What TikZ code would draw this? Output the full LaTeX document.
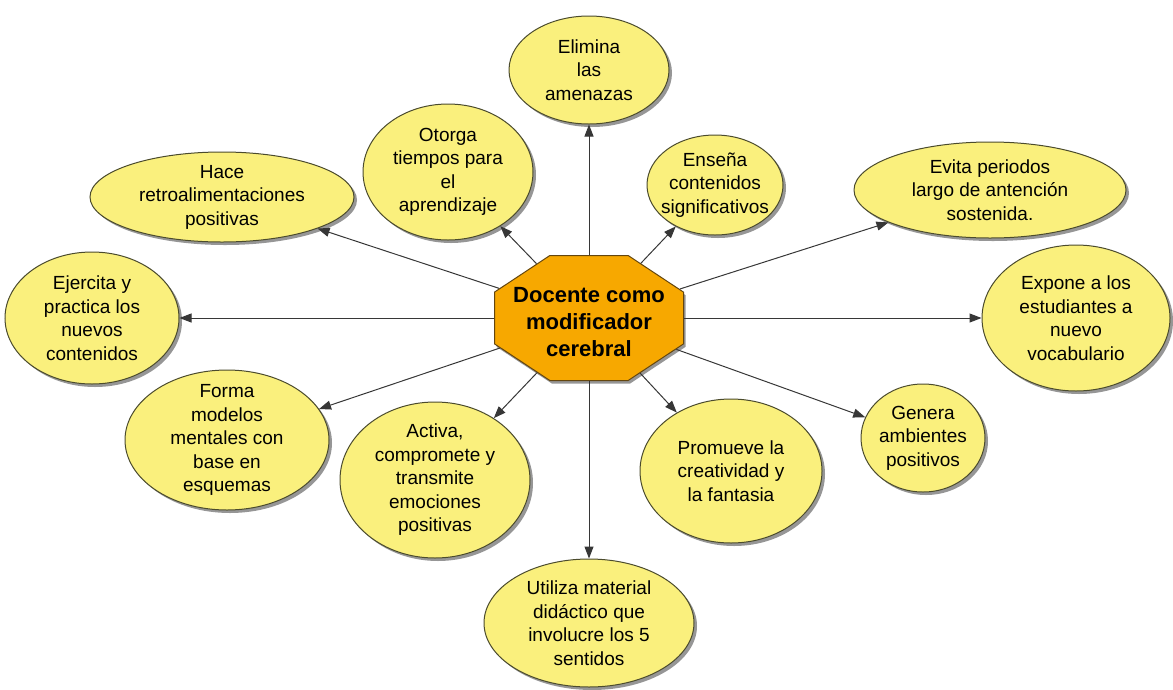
\documentclass[tikz,border=0pt]{standalone}
\usepackage{fontspec}
\setmainfont{Liberation Sans}
\usetikzlibrary{shapes.geometric,shadows,arrows.meta}
\definecolor{bubfill}{RGB}{250,240,125}
\definecolor{bubline}{RGB}{75,75,45}
\definecolor{octfill}{RGB}{247,168,0}
\definecolor{octline}{RGB}{100,70,15}
\definecolor{arrcol}{RGB}{55,55,55}
\definecolor{shadowcol}{RGB}{150,150,150}
\tikzset{
  bub/.style={ellipse, draw=bubline, line width=1pt, fill=bubfill, inner sep=0pt,
    drop shadow={shadow xshift=3pt, shadow yshift=-3pt, fill=shadowcol, opacity=1}},
  bubtxt/.style={align=center, font=\fontsize{19}{23.5}\selectfont, inner sep=0pt},
  octa/.style={regular polygon, regular polygon sides=8, draw=octline, line width=1pt,
    fill=octfill, inner sep=0pt, minimum size=135.3pt, xscale=1.512, transform shape,
    drop shadow={shadow xshift=2pt, shadow yshift=-3pt, fill=shadowcol, opacity=1}},
  ctxt/.style={align=center, font=\fontsize{22}{27}\selectfont\bfseries, inner sep=0pt},
  arr/.style={draw=arrcol, line width=1pt, -{Triangle[length=12pt,width=9pt]}},
}
\begin{document}
\begin{tikzpicture}[x=1pt,y=-1pt]
\useasboundingbox (0,0) rectangle (1173,689);
% bubbles
\node[bub, minimum width=160pt, minimum height=108pt,
  label={[bubtxt]center:Elimina\\las\\amenazas}] (elim) at (589,70) {};
\node[bub, minimum width=170pt, minimum height=136pt,
  label={[bubtxt]center:Otorga\\tiempos para\\el\\aprendizaje}] (otorga) at (448,172) {};
\node[bub, minimum width=136pt, minimum height=100pt,
  label={[bubtxt]center:Enseña\\contenidos\\significativos}] (ensena) at (715,185) {};
\node[bub, minimum width=272pt, minimum height=96pt,
  label={[bubtxt]center:Evita periodos\\largo de antención\\sostenida.}] (evita) at (990,190) {};
\node[bub, minimum width=264pt, minimum height=90pt,
  label={[bubtxt]center:Hace\\retroalimentaciones\\positivas}] (hace) at (222,197) {};
\node[bub, minimum width=174pt, minimum height=132pt,
  label={[bubtxt]center:Ejercita y\\practica los\\nuevos\\contenidos}] (ejercita) at (92,318) {};
\node[bub, minimum width=188pt, minimum height=146pt,
  label={[bubtxt]center:Expone a los\\estudiantes a\\nuevo\\vocabulario}] (expone) at (1076,318) {};
\node[bub, minimum width=204pt, minimum height=140pt,
  label={[bubtxt]center:Forma\\modelos\\mentales con\\base en\\esquemas}] (forma) at (227,440) {};
\node[bub, minimum width=190pt, minimum height=156pt,
  label={[bubtxt]center:Activa,\\compromete y\\transmite\\emociones\\positivas}] (activa) at (435,480) {};
\node[bub, minimum width=182pt, minimum height=144pt,
  label={[bubtxt]center:Promueve la\\creatividad y\\la fantasia}] (promueve) at (731,471) {};
\node[bub, minimum width=124pt, minimum height=108pt,
  label={[bubtxt]center:Genera\\ambientes\\positivos}] (genera) at (923,438) {};
\node[bub, minimum width=210pt, minimum height=128pt,
  label={[bubtxt]center:Utiliza material\\didáctico que\\involucre los 5\\sentidos}] (utiliza) at (589,623) {};
% centre
\node[octa] (c) at (589,318) {};
\node[ctxt] (ctext) at (589,322) {Docente como\\modificador\\cerebral};
% connectors
\foreach \t in {elim,otorga,ensena,evita,hace,ejercita,expone,forma,activa,promueve,genera,utiliza}
  \draw[arr] (c) -- (\t);
\end{tikzpicture}
\end{document}
